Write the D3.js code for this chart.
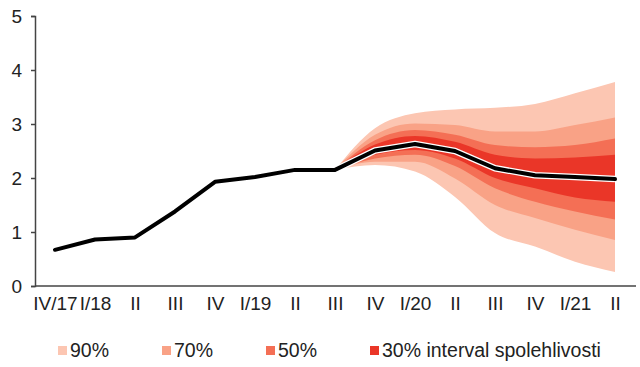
<!DOCTYPE html>
<html>
<head>
<meta charset="utf-8">
<script src="https://cdn.jsdelivr.net/npm/d3@7"></script>
<style>
    body { margin: 0; background: #fff; }
    svg { display: block; font-family: 'Liberation Sans', Arial, sans-serif; }
</style>
</head>
<body>
<div id="chart"></div>
<script>
var categories = ['IV/17', 'I/18', 'II', 'III', 'IV', 'I/19', 'II', 'III', 'IV', 'I/20', 'II', 'III', 'IV', 'I/21', 'II'];
var forecast = [0.67, 0.86, 0.9, 1.38, 1.93, 2.02, 2.15, 2.15, 2.51, 2.63, 2.5, 2.18, 2.05, 2.02, 1.98];

// fan starts at III/19 (index 7)
var fanStart = 7;
var lo90 = [2.15, 2.24, 2.12, 1.65, 0.98, 0.73, 0.45, 0.26];
var lo70 = [2.15, 2.3, 2.3, 1.99, 1.5, 1.26, 1.04, 0.85];
var lo50 = [2.15, 2.36, 2.43, 2.22, 1.81, 1.56, 1.38, 1.23];
var lo30 = [2.15, 2.43, 2.52, 2.36, 2.0, 1.81, 1.64, 1.56];
var hi30 = [2.15, 2.62, 2.78, 2.67, 2.43, 2.36, 2.38, 2.43];
var hi50 = [2.15, 2.7, 2.89, 2.8, 2.61, 2.57, 2.61, 2.73];
var hi70 = [2.15, 2.8, 3.01, 2.98, 2.86, 2.86, 2.98, 3.12];
var hi90 = [2.15, 2.92, 3.2, 3.27, 3.3, 3.37, 3.57, 3.78];

var yTicks = [0, 1, 2, 3, 4, 5];
var bands = [
    { name: '90%', lo: lo90, hi: hi90, color: '#fcc6b2' },
    { name: '70%', lo: lo70, hi: hi70, color: '#f9a286' },
    { name: '50%', lo: lo50, hi: hi50, color: '#f46f55' },
    { name: '30% interval spolehlivosti', lo: lo30, hi: hi30, color: '#ea3628' }
];
var legendX = [58, 162, 266, 370];

var width = 640, height = 367;
var margin = { left: 35, right: 5, top: 16, bottom: 81 };

var svg = d3.select('#chart').append('svg')
    .attr('width', width)
    .attr('height', height);

var x = d3.scalePoint()
    .domain(d3.range(categories.length))
    .range([55, 615]);

var y = d3.scaleLinear()
    .domain([0, 5])
    .range([height - margin.bottom, margin.top]);

// fan bands, widest first
bands.forEach(function(b) {
    var area = d3.area()
        .x(function(d, i) { return x(fanStart + i); })
        .y0(function(d, i) { return y(b.lo[i]); })
        .y1(function(d, i) { return y(b.hi[i]); })
        .curve(d3.curveMonotoneX);
    svg.append('path')
        .datum(b.lo)
        .attr('d', area)
        .attr('fill', b.color);
});

var line = d3.line()
    .x(function(d, i) { return x(i); })
    .y(function(d) { return y(d); });

svg.append('path')
    .datum(forecast)
    .attr('d', line)
    .attr('fill', 'none')
    .attr('stroke', '#fff')
    .attr('stroke-width', 6.5)
    .attr('stroke-linejoin', 'round');

svg.append('path')
    .datum(forecast)
    .attr('d', line)
    .attr('fill', 'none')
    .attr('stroke', '#000')
    .attr('stroke-width', 4)
    .attr('stroke-linejoin', 'round')
    .attr('stroke-linecap', 'round');

// y axis
var yAxis = svg.append('g')
    .attr('transform', 'translate(' + margin.left + ',0)')
    .call(d3.axisLeft(y).tickValues(yTicks).tickSize(4).tickPadding(9).tickFormat(d3.format('d')));
yAxis.select('.domain').attr('stroke', '#444').attr('stroke-width', 1.5);
yAxis.selectAll('.tick line').attr('stroke', '#444').attr('stroke-width', 1.5);
yAxis.selectAll('.tick text')
    .attr('font-size', 19)
    .attr('fill', '#222')
    .attr('font-family', 'Liberation Sans, Arial, sans-serif');

// x axis
var xAxis = svg.append('g')
    .attr('transform', 'translate(0,' + y(0) + ')')
    .call(d3.axisBottom(x).tickSize(0).tickPadding(11).tickFormat(function(i) { return categories[i]; }));
xAxis.select('.domain').attr('d', 'M' + margin.left + ',0H' + (width - 4)).attr('stroke', '#444').attr('stroke-width', 1.5);
xAxis.selectAll('.tick text')
    .attr('font-size', 19)
    .attr('fill', '#222')
    .attr('font-family', 'Liberation Sans, Arial, sans-serif');

// legend
var legend = svg.append('g');
bands.forEach(function(b, i) {
    legend.append('rect')
        .attr('x', legendX[i])
        .attr('y', 346)
        .attr('width', 9)
        .attr('height', 9)
        .attr('fill', b.color);
    legend.append('text')
        .attr('x', legendX[i] + 12)
        .attr('y', 357)
        .attr('font-size', 19.5)
        .attr('fill', '#222')
        .text(b.name);
});
</script>
</body>
</html>
